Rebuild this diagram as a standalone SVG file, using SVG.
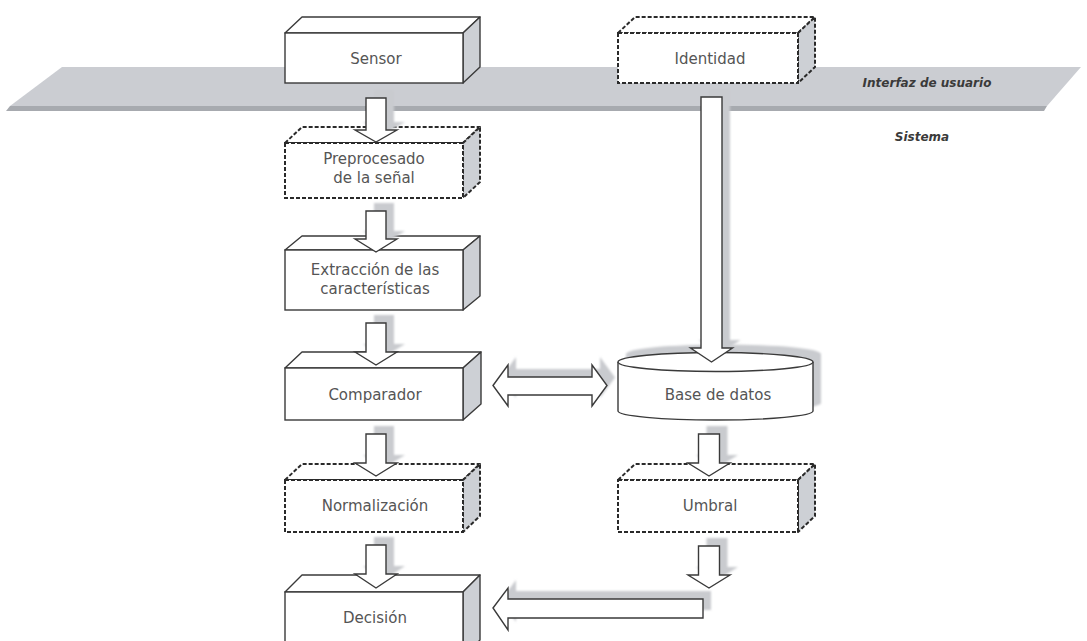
<svg xmlns="http://www.w3.org/2000/svg" width="1087" height="641" viewBox="0 0 1087 641">
  <defs>
    <filter id="soft" x="-10%" y="-10%" width="120%" height="120%">
      <feGaussianBlur stdDeviation="1.2"/>
    </filter>
  </defs>
  <style>
    .front { fill: #ffffff; stroke: #3a3a3a; stroke-width: 1.4; }
    .top { fill: #ffffff; stroke: #3a3a3a; stroke-width: 1.4; stroke-linejoin: round; }
    .side { fill: #cdd0d5; stroke: #3a3a3a; stroke-width: 1.4; stroke-linejoin: round; }
    .dashed .front, .dashed .top, .dashed .side { stroke: #2a2a2a; stroke-width: 2; stroke-dasharray: 4 2; }
    .label { font-family: "DejaVu Sans", Verdana, sans-serif; font-size: 15px; fill: #555555; text-anchor: middle; }
    .band-label { font-family: "DejaVu Sans", Verdana, sans-serif; font-size: 12px; font-weight: bold; font-style: italic; fill: #3a3a3a; text-anchor: middle; }
    .arrow { fill: #ffffff; stroke: #3a3a3a; stroke-width: 1.4; stroke-linejoin: miter; }
    .shadow { fill: #c9cbcf; stroke: none; filter: url(#soft); }
  </style>

  <!-- interface band separating user interface and system -->
  <g id="band">
    <polygon points="62,67 1081,67 1047,106 10,106" fill="#cbcdd2"/>
    <polygon points="10,106 1047,106 1044,111 6,111" fill="#a7aaaf"/>
    <text class="band-label" x="927" y="87">Interfaz de usuario</text>
    <text class="band-label" x="922" y="141">Sistema</text>
  </g>

  <!-- boxes in the user interface layer -->
  <g id="sensor">
    <polygon class="top" points="285,33 302,17 480,17 463,33"/>
    <polygon class="side" points="463,33 480,17 480,67 463,83"/>
    <rect class="front" x="285" y="33" width="178" height="50"/>
    <text class="label" x="376" y="64">Sensor</text>
  </g>
  <g id="identidad" class="dashed">
    <polygon class="top" points="618,33 635,17 815,17 798,33"/>
    <polygon class="side" points="798,33 815,17 815,67 798,83"/>
    <rect class="front" x="618" y="33" width="180" height="50"/>
    <text class="label" x="710" y="64">Identidad</text>
  </g>

  <!-- processing chain -->
  <g id="preprocesado" class="dashed">
    <polygon class="top" points="285,143 302,127 480,127 463,143"/>
    <polygon class="side" points="463,143 480,127 480,182 463,198"/>
    <rect class="front" x="285" y="143" width="178" height="55"/>
    <text class="label" x="374" y="164">Preprocesado</text>
    <text class="label" x="374" y="183">de la señal</text>
  </g>
  <g id="extraccion">
    <polygon class="top" points="285,250 302,236 480,236 463,250"/>
    <polygon class="side" points="463,250 480,236 480,296 463,310"/>
    <rect class="front" x="285" y="250" width="178" height="60"/>
    <text class="label" x="375" y="275">Extracción de las</text>
    <text class="label" x="375" y="294">características</text>
  </g>
  <g id="comparador">
    <polygon class="top" points="285,368 302,352 481,352 463,368"/>
    <polygon class="side" points="463,368 481,352 481,404 463,420"/>
    <rect class="front" x="285" y="368" width="178" height="52"/>
    <text class="label" x="375" y="400">Comparador</text>
  </g>
  <g id="normalizacion" class="dashed">
    <polygon class="top" points="285,480 302,464 480,464 463,480"/>
    <polygon class="side" points="463,480 480,464 480,516 463,532"/>
    <rect class="front" x="285" y="480" width="178" height="52"/>
    <text class="label" x="375" y="511">Normalización</text>
  </g>
  <g id="decision">
    <polygon class="top" points="285,592 302,575 480,575 463,592"/>
    <polygon class="side" points="463,592 480,575 480,640 463,657"/>
    <rect class="front" x="285" y="592" width="178" height="60"/>
    <text class="label" x="375" y="623">Decisión</text>
  </g>

  <!-- database and threshold -->
  <g id="base-datos">
    <path class="shadow" d="M626,354 A97.5,9.5 0 0 1 821,354 L821,403 A97.5,9 0 0 1 626,403 Z"/>
    <path class="front" d="M618,362 L618,411 A97.5,9 0 0 0 813,411 L813,362"/>
    <ellipse class="front" cx="715.5" cy="362" rx="97.5" ry="9.5"/>
    <text class="label" x="718" y="400">Base de datos</text>
  </g>
  <g id="umbral" class="dashed">
    <polygon class="top" points="618,480 635,464 815,464 798,480"/>
    <polygon class="side" points="798,480 815,464 815,516 798,532"/>
    <rect class="front" x="618" y="480" width="180" height="52"/>
    <text class="label" x="710" y="511">Umbral</text>
  </g>

  <!-- block arrows between stages, each with its offset shadow -->
  <g id="connectors">
    <!-- Sensor to Preprocesado -->
    <g transform="translate(376,0)">
      <polygon class="shadow" transform="translate(8,-8)" points="-10,98 10,98 10,130 21,130 0,142 -21,130 -10,130"/>
      <polygon class="arrow" points="-10,98 10,98 10,130 21,130 0,142 -21,130 -10,130"/>
    </g>
    <!-- Preprocesado to Extraccion -->
    <g transform="translate(376,0)">
      <polygon class="shadow" transform="translate(8,-8)" points="-10,211 10,211 10,239 21,239 0,252 -21,239 -10,239"/>
      <polygon class="arrow" points="-10,211 10,211 10,239 21,239 0,252 -21,239 -10,239"/>
    </g>
    <!-- Extraccion to Comparador -->
    <g transform="translate(376,0)">
      <polygon class="shadow" transform="translate(8,-8)" points="-10,323 10,323 10,352 21,352 0,365 -21,352 -10,352"/>
      <polygon class="arrow" points="-10,323 10,323 10,352 21,352 0,365 -21,352 -10,352"/>
    </g>
    <!-- Comparador to Normalizacion -->
    <g transform="translate(376,0)">
      <polygon class="shadow" transform="translate(8,-8)" points="-10,434 10,434 10,463 21,463 0,476 -21,463 -10,463"/>
      <polygon class="arrow" points="-10,434 10,434 10,463 21,463 0,476 -21,463 -10,463"/>
    </g>
    <!-- Normalizacion to Decision -->
    <g transform="translate(376,0)">
      <polygon class="shadow" transform="translate(8,-8)" points="-10,545 10,545 10,574 21,574 0,588 -21,574 -10,574"/>
      <polygon class="arrow" points="-10,545 10,545 10,574 21,574 0,588 -21,574 -10,574"/>
    </g>
    <!-- Identidad to Base de datos -->
    <g transform="translate(711.5,0)">
      <polygon class="shadow" transform="translate(8,-8)" points="-10.5,97 10.5,97 10.5,348 21,348 0,362 -21,348 -10.5,348"/>
      <polygon class="arrow" points="-10.5,97 10.5,97 10.5,348 21,348 0,362 -21,348 -10.5,348"/>
    </g>
    <!-- Base de datos to Umbral -->
    <g transform="translate(709,0)">
      <polygon class="shadow" transform="translate(8,-8)" points="-10.5,434 10.5,434 10.5,463 21,463 0,476 -21,463 -10.5,463"/>
      <polygon class="arrow" points="-10.5,434 10.5,434 10.5,463 21,463 0,476 -21,463 -10.5,463"/>
    </g>
    <!-- Umbral down, then left to Decision -->
    <g transform="translate(709,0)">
      <polygon class="shadow" transform="translate(8,-8)" points="-10.5,546 10.5,546 10.5,575 21,575 0,588 -21,575 -10.5,575"/>
      <polygon class="arrow" points="-10.5,546 10.5,546 10.5,575 21,575 0,588 -21,575 -10.5,575"/>
    </g>
    <g>
      <polygon class="shadow" transform="translate(8,-8)" points="493,608 508,588 508,599 703,599 703,618 508,618 508,630"/>
      <polygon class="arrow" points="493,608 508,588 508,599 703,599 703,618 508,618 508,630"/>
    </g>
    <!-- Comparador and Base de datos, both ways -->
    <g>
      <polygon class="shadow" transform="translate(8,-8)" points="493,385.5 508,365 508,377 592,377 592,365 607,385.5 592,406 592,395 508,395 508,406"/>
      <polygon class="arrow" points="493,385.5 508,365 508,377 592,377 592,365 607,385.5 592,406 592,395 508,395 508,406"/>
    </g>
  </g>
</svg>
